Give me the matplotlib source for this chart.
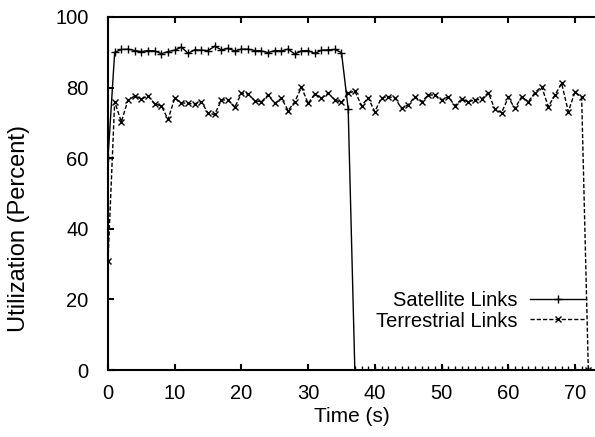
import matplotlib
matplotlib.use("Agg")
import matplotlib.pyplot as plt

# tiempo en segundos, una muestra por segundo
tiempo = list(range(73))

satelite = [60, 90.0, 90.8, 90.9, 90.5, 90.2, 90.5, 90.4, 89.6, 90.2, 90.6,
            91.5, 89.7, 90.7, 90.6, 90.5, 91.7, 90.7, 91.1, 90.4,
            90.9, 90.9, 90.5, 90.4, 89.9, 90.5, 90.4, 90.9, 89.5, 90.4,
            90.5, 89.7, 90.6, 90.7, 90.8, 89.9, 74.0] + [0] * 36

terrestre = [31, 76.0, 70.3, 76.5, 77.6, 76.8, 77.6, 75.4, 74.8, 71.0, 77.0,
             75.7, 75.5, 75.4, 76.0, 72.7, 72.4, 76.5,
             76.5, 74.4, 78.4, 78.2, 76.3, 76.0, 77.9, 75.5, 77.0, 73.5,
             76.0, 80.1, 75.5, 78.2, 77.0, 78.4, 76.5, 75.8,
             78.4, 79.0, 74.9, 77.1, 73.2, 77.1, 77.4, 77.1, 74.1, 75.1,
             77.4, 76.0, 77.9, 77.9, 76.5, 77.4, 74.9,
             76.7, 76.0, 76.5, 76.7, 78.6, 73.8, 72.9, 77.2, 74.1, 77.4,
             76.0, 78.6, 80.3, 74.6, 77.9, 81.2, 73.2, 78.8, 77.2, 0]

etiquetas = ["Satellite Links", "Terrestrial Links"]
xticks = [0, 10, 20, 30, 40, 50, 60, 70]
yticks = [0, 20, 40, 60, 80, 100]

plt.rcParams["font.family"] = ["Liberation Sans", "DejaVu Sans"]
plt.rcParams["font.size"] = 14.5

W, H = 595, 437
fig = plt.figure(figsize=(W / 100, H / 100), dpi=100)
ax = fig.add_axes([108 / W, 67 / H, 487 / W, 353 / H])

ax.plot(tiempo, satelite, color="black", lw=1.0, ls="-",
        marker="+", ms=6, mew=1.0, label=etiquetas[0])
ax.plot(tiempo, terrestre, color="black", lw=1.0, ls=(0, (3, 1.5)),
        marker="x", ms=4.5, mew=1.0, label=etiquetas[1])

ax.set_xlim(0, 73)
ax.set_ylim(0, 100)
ax.set_xticks(xticks)
ax.set_yticks(yticks)
ax.tick_params(direction="in", length=4, width=1.5, top=True, pad=10,
               labelsize=14.5)
ax.tick_params(axis="y", pad=14)
for lado in ["left", "bottom", "top"]:
    ax.spines[lado].set_linewidth(1.5)
ax.spines["right"].set_visible(False)

ax.set_xlabel("Time (s)", fontsize=15, labelpad=3)
fig.text(19 / W, 1 - 228 / H, "Utilization (Percent)", rotation=90,
         ha="center", va="center", fontsize=17)

ax.legend(loc="center right", bbox_to_anchor=(586 / W, 1 - 311 / H),
          bbox_transform=fig.transFigure, frameon=False, markerfirst=False,
          numpoints=1, handlelength=2.8, handletextpad=0.6,
          labelspacing=0.05, borderpad=0, borderaxespad=0, fontsize=14.5)

fig.savefig("out.png", dpi=100)
